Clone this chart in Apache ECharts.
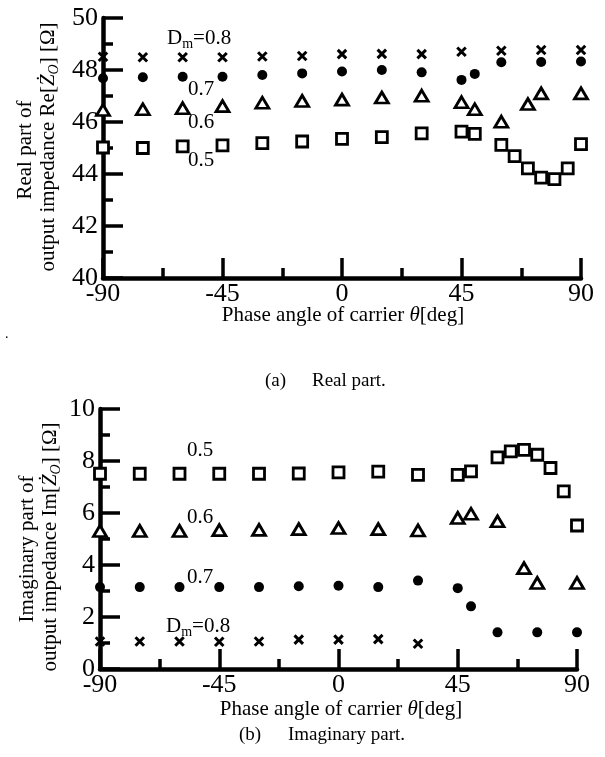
<!DOCTYPE html>
<html>
<head>
<meta charset="utf-8">
<script src="https://cdn.jsdelivr.net/npm/echarts@6/dist/echarts.min.js"></script>
<style>
  html, body { margin: 0; background: #fff; }
  #main { width: 605px; height: 757px; }
</style>
</head>
<body>
<div id="main"></div>
<script>
// phase angle of carrier [deg] for each D_m series
const theta08Re = [-90, -75, -60, -45, -30, -15, 0, 15, 30, 45, 60, 75, 90]
const theta07 = [-90, -75, -60, -45, -30, -15, 0, 15, 30, 45, 50, 60, 75, 90]
const theta06 = [-90, -75, -60, -45, -30, -15, 0, 15, 30, 45, 50, 60, 70, 75, 90]
const theta05 = [-90, -75, -60, -45, -30, -15, 0, 15, 30, 45, 50, 60, 65, 70, 75, 80, 85, 90]
const theta08Im = [-90, -75, -60, -45, -30, -15, 0, 15, 30]

// (a) real part [ohm]
const re08 = [48.51, 48.49, 48.49, 48.49, 48.52, 48.54, 48.61, 48.62, 48.61, 48.70, 48.74, 48.77, 48.77]
const re07 = [47.68, 47.72, 47.74, 47.74, 47.81, 47.87, 47.94, 48.00, 47.91, 47.62, 47.85, 48.30, 48.31, 48.33]
const re06 = [46.46, 46.49, 46.53, 46.61, 46.74, 46.81, 46.86, 46.94, 47.01, 46.76, 46.49, 46.01, 46.69, 47.10, 47.10]
const re05 = [45.02, 45.00, 45.06, 45.10, 45.19, 45.25, 45.35, 45.42, 45.56, 45.63, 45.54, 45.12, 44.69, 44.22, 43.86, 43.80, 44.22, 45.15]

// (b) imaginary part [ohm]
const im05 = [7.51, 7.51, 7.51, 7.51, 7.51, 7.52, 7.56, 7.59, 7.47, 7.47, 7.60, 8.14, 8.37, 8.43, 8.24, 7.73, 6.83, 5.52]
const im06 = [5.31, 5.31, 5.31, 5.34, 5.35, 5.38, 5.42, 5.38, 5.33, 5.81, 5.97, 5.68, 3.88, 3.31, 3.31]
const im07 = [3.15, 3.15, 3.15, 3.15, 3.15, 3.18, 3.20, 3.15, 3.40, 3.11, 2.41, 1.41, 1.41, 1.41]
const im08 = [1.06, 1.06, 1.06, 1.05, 1.06, 1.13, 1.13, 1.15, 0.97]

const xTickStep = 45
const reRange = [40, 50]
const imRange = [0, 10]
const yTickStep = 2

const FONT = '"Liberation Serif", "Times New Roman", serif'
const chart = echarts.init(document.getElementById('main'))

function pts(th, v) {
  return th.map((t, i) => [t, v[i]])
}

const marks = {
  cross: {
    symbol: 'path://M0,0L10,10M10,0L0,10', symbolSize: 8.5,
    itemStyle: { color: '#000', borderColor: '#000', borderWidth: 3, opacity: 1 }
  },
  dot: { symbol: 'circle', symbolSize: 10, itemStyle: { color: '#000', opacity: 1 } },
  tri: {
    symbol: 'triangle', symbolSize: [13, 11],
    itemStyle: { color: '#fff', borderColor: '#000', borderWidth: 2.8, opacity: 1 }
  },
  sq: {
    symbol: 'rect', symbolSize: 11,
    itemStyle: { color: '#fff', borderColor: '#000', borderWidth: 2.8, opacity: 1 }
  }
}

function scatter(idx, data, m) {
  return Object.assign({
    type: 'scatter', xAxisIndex: idx, yAxisIndex: idx, data: data,
    clip: false, silent: true, emphasis: { disabled: true }
  }, marks[m])
}

function xAxis(gi) {
  return {
    gridIndex: gi, type: 'value', min: -90, max: 90, interval: xTickStep,
    axisLine: { onZero: false, lineStyle: { color: '#000', width: 4.5 } },
    axisTick: { inside: true, length: 20, lineStyle: { color: '#000', width: 3.5 } },
    minorTick: { show: true, splitNumber: 2, length: 10, lineStyle: { color: '#000', width: 3.5 } },
    splitLine: { show: false },
    axisLabel: { color: '#000', fontFamily: FONT, fontSize: 26, margin: 3 }
  }
}

function yAxis(gi, r) {
  return {
    gridIndex: gi, type: 'value', min: r[0], max: r[1], interval: yTickStep,
    axisLine: { show: true, onZero: false, lineStyle: { color: '#000', width: 4.5 } },
    axisTick: { show: true, inside: true, length: 20, lineStyle: { color: '#000', width: 3.5 } },
    minorTick: { show: true, splitNumber: 2, length: 10, lineStyle: { color: '#000', width: 3.5 } },
    splitLine: { show: false },
    axisLabel: { color: '#000', fontFamily: FONT, fontSize: 26, margin: 5 }
  }
}

const rich = {
  n: { fontFamily: FONT, fontSize: 21, color: '#000' },
  i: { fontFamily: FONT, fontSize: 21, fontStyle: 'italic', color: '#000' },
  sub: { fontFamily: FONT, fontSize: 14, fontStyle: 'italic', color: '#000', verticalAlign: 'bottom', lineHeight: 27 },
  m: { fontFamily: FONT, fontSize: 14, color: '#000', verticalAlign: 'bottom', lineHeight: 27 }
}

function txt(x, y, text, opt) {
  opt = opt || {}
  return {
    type: 'text', x: x, y: y, rotation: opt.rot || 0, silent: true,
    style: {
      text: text, fill: '#000', fontFamily: FONT, fontSize: opt.size || 21,
      align: opt.align || 'left', verticalAlign: 'middle', rich: rich
    }
  }
}

const R = Math.PI / 2

chart.setOption({
  animation: false,
  backgroundColor: '#fff',
  grid: [
    { left: 103, top: 18, width: 478, height: 260 },
    { left: 100, top: 409, width: 477, height: 260 }
  ],
  xAxis: [xAxis(0), xAxis(1)],
  yAxis: [yAxis(0, reRange), yAxis(1, imRange)],
  series: [
    scatter(0, pts(theta08Re, re08), 'cross'),
    scatter(0, pts(theta07, re07), 'dot'),
    scatter(0, pts(theta06, re06), 'tri'),
    scatter(0, pts(theta05, re05), 'sq'),
    scatter(1, pts(theta05, im05), 'sq'),
    scatter(1, pts(theta06, im06), 'tri'),
    scatter(1, pts(theta07, im07), 'dot'),
    scatter(1, pts(theta08Im, im08), 'cross')
  ],
  graphic: [
    // (a) labels
    txt(25, 150, 'Real part of', { rot: R, align: 'center' }),
    txt(48, 147, '{n|output impedance Re[}{i|Ż}{sub|O}{n|] [Ω]}', { rot: R, align: 'center' }),
    txt(343, 315, '{n|Phase angle of carrier }{i|θ}{n|[deg]}', { align: 'center' }),
    txt(265, 381, '(a)', { size: 19 }),
    txt(312, 381, 'Real part.', { size: 19 }),
    txt(167, 38, '{n|D}{m|m}{n|=0.8}'),
    txt(188, 89, '0.7'),
    txt(188, 122, '0.6'),
    txt(188, 160, '0.5'),
    txt(5, 334, '.', { size: 14 }),
    // (b) labels
    txt(27, 549, 'Imaginary part of', { rot: R, align: 'center' }),
    txt(50, 547, '{n|output impedance Im[}{i|Ż}{sub|O}{n|] [Ω]}', { rot: R, align: 'center' }),
    txt(341, 709, '{n|Phase angle of carrier }{i|θ}{n|[deg]}', { align: 'center' }),
    txt(239, 735, '(b)', { size: 19 }),
    txt(288, 735, 'Imaginary part.', { size: 19 }),
    txt(187, 450, '0.5'),
    txt(187, 517, '0.6'),
    txt(187, 577, '0.7'),
    txt(166, 626, '{n|D}{m|m}{n|=0.8}')
  ]
})
</script>
</body>
</html>
